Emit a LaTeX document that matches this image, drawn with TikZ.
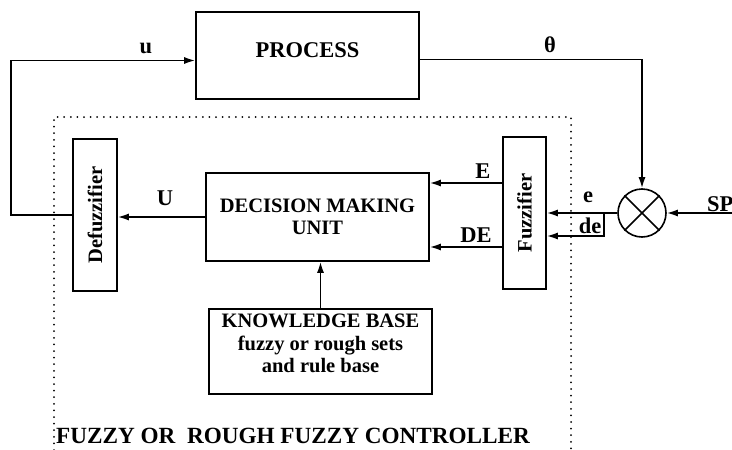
\documentclass[tikz,border=0pt]{standalone}
\usepackage{fontspec}
\setmainfont{Liberation Serif}
\usepackage{graphicx}
\usepackage{tikz}
\usetikzlibrary{arrows.meta}
\usetikzlibrary{positioning}

\begin{document}
\begin{tikzpicture}[
    x=1pt, y=-1pt,
    >={Latex[length=11pt, width=7pt]},
    font=\fontsize{20.5}{22.5}\selectfont\bfseries,
    blk_style/.style={draw, line width=1.6pt, inner sep=0pt, align=center},
    arr_style/.style={->, line width=1.6pt},
    wire_style/.style={line width=1.5pt},
    sum_style/.style={draw, circle, line width=1.6pt, minimum size=48pt, inner sep=0pt},
    dot_style/.style={line width=2pt, line cap=round, dash pattern=on 0pt off 6.6pt},
    lbl/.style={anchor=base, inner sep=0pt, font=\fontsize{22.5}{24}\selectfont\bfseries}
  ]

  \useasboundingbox (0,0) rectangle (732,450);

  % 1. Blocken
  \node[blk_style, minimum width=223pt, minimum height=87pt, text depth=10pt,
    font=\fontsize{22.5}{24}\selectfont\bfseries] (process) at (307.5,55.5) {PROCESS};
  \node[blk_style, minimum width=223pt, minimum height=88pt] (dmu) at (317.5,217) {DECISION MAKING\\UNIT};
  \node[blk_style, minimum width=223pt, minimum height=85pt, text depth=16pt] (kb) at (320.5,351.5)
    {KNOWLEDGE BASE\\fuzzy or rough sets\\and rule base};
  \node[blk_style, minimum width=44pt, minimum height=152pt] (defuzz) at (95,215) {\rotatebox{90}{Defuzzifier}};
  \node[blk_style, minimum width=43pt, minimum height=152pt] (fuzz) at (524.5,213) {\rotatebox{90}{Fuzzifier}};

  % 2. Summationspunkten
  \node[sum_style] (sum) at (642,213) {};
  \draw[wire_style] (sum.45) -- (sum.225);
  \draw[wire_style] (sum.135) -- (sum.-45);

  % 3. Regulatorns ram (prickad)
  \draw[dot_style] (54,450) |- (571,117) -- (571,450);
  \node[anchor=base west, inner sep=0pt, font=\fontsize{23.2}{25}\selectfont\bfseries] (ctrl) at (56,443)
    {FUZZY OR\ \ ROUGH FUZZY CONTROLLER};

  % 4. Signalvagar
  \coordinate (fbk) at (11,215);
  \coordinate (spin) at (732,213);
  \coordinate (dejoin) at (604,213);
  \draw[arr_style] (defuzz.west) -- (fbk) |- ([yshift=-5pt]process.west);
  \draw[arr_style] ([yshift=-4pt]process.east) -| (sum.north);
  \draw[arr_style] (spin) -- (sum.east);
  \draw[arr_style] (sum.west) -- (sum.west -| fuzz.east);
  \draw[arr_style] (dejoin) |- ([yshift=-23pt]fuzz.east);
  \draw[arr_style] ([yshift=30pt]fuzz.west) -- ([yshift=30pt]fuzz.west -| dmu.east);
  \draw[arr_style] ([yshift=-34pt]fuzz.west) -- ([yshift=-34pt]fuzz.west -| dmu.east);
  \draw[arr_style] (dmu.west) -- (dmu.west -| defuzz.east);
  \draw[arr_style] (kb.north) -- (kb.north |- dmu.south);

  % 5. Signalnamn
  \node[lbl] (u_lbl) at (146,53) {u};
  \node[lbl] (th_lbl) at (550,52) {θ};
  \node[lbl] (U_lbl) at (165,205) {U};
  \node[lbl] (E_lbl) at (483,178) {E};
  \node[lbl] (DE_lbl) at (476,242) {DE};
  \node[lbl] (e_lbl) at (588,202) {e};
  \node[lbl] (de_lbl) at (590,233) {de};
  \node[lbl, anchor=base west] (sp_lbl) at (707,211) {SP};

\end{tikzpicture}
\end{document}
